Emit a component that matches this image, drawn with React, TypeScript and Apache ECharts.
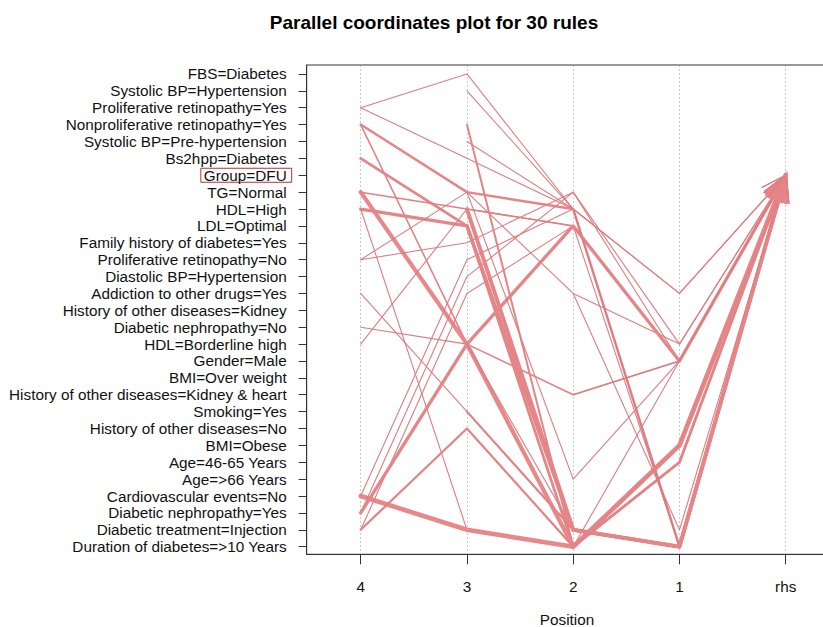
import React, { useEffect, useRef } from "react";
import * as echarts from "echarts";

// Item labels (y axis, top to bottom)
const items = [
  "FBS=Diabetes",
  "Systolic BP=Hypertension",
  "Proliferative retinopathy=Yes",
  "Nonproliferative retinopathy=Yes",
  "Systolic BP=Pre-hypertension",
  "Bs2hpp=Diabetes",
  "Group=DFU",
  "TG=Normal",
  "HDL=High",
  "LDL=Optimal",
  "Family history of diabetes=Yes",
  "Proliferative retinopathy=No",
  "Diastolic BP=Hypertension",
  "Addiction to other drugs=Yes",
  "History of other diseases=Kidney",
  "Diabetic nephropathy=No",
  "HDL=Borderline high",
  "Gender=Male",
  "BMI=Over weight",
  "History of other diseases=Kidney & heart",
  "Smoking=Yes",
  "History of other diseases=No",
  "BMI=Obese",
  "Age=46-65 Years",
  "Age=>66 Years",
  "Cardiovascular events=No",
  "Diabetic nephropathy=Yes",
  "Diabetic treatment=Injection",
  "Duration of diabetes=>10 Years",
];

// x-axis tick labels
const positionLabels = ["4", "3", "2", "1", "rhs"];
const rhsItem = 6; // Group=DFU

// Rules: index of the item at each LHS position (null = no item at that position)
const lhsPos4 = [2, 2, 3, 3, 5, 7, 7, 8, 8, 11, 11, 13, 15, 16, 25, 25, 26, 27, 26, 27, null, null, null, null, null, null, null, null, null, null];
const lhsPos3 = [0, 5, 16, 7, 9, 16, 8, 9, 27, 10, 7, 20, 16, 8, 27, 11, 12, 13, 16, 21, 1, 4, 20, 3, 8, 9, 7, null, null, null];
const lhsPos2 = [8, 8, 19, 8, 28, 28, 9, 27, 28, 7, 13, 27, 27, 9, 28, 8, 7, 9, 9, 28, 8, 8, 27, 28, 27, 27, 24, 19, 27, 13];
const lhsPos1 = [13, 13, 17, 28, 23, 22, 17, 28, 17, 16, 16, 28, 28, 28, 22, 28, 17, 17, 17, 23, 28, 28, 28, 22, 28, 28, 17, 17, 28, 27];
// Rule measures
const support = [0.1, 0.1, 0.14, 0.22, 0.25, 0.38, 0.14, 0.3, 0.1, 0.1, 0.1, 0.1, 0.1, 0.1, 0.42, 0.1, 0.1, 0.1, 0.3, 0.2, 0.1, 0.1, 0.2, 0.18, 0.36, 0.3, 0.1, 0.1, 0.3, 0.1];
const lift = [1.3, 1.3, 1.2, 1.1, 1.1, 1.05, 1.2, 1.1, 1.3, 1.3, 1.3, 1.3, 1.3, 1.3, 1.05, 1.3, 1.3, 1.3, 1.1, 1.15, 1.3, 1.3, 1.15, 1.15, 1.1, 1.1, 1.3, 1.3, 1.1, 1.3];

const X_MIN = -0.508;
const X_MAX = 4.508;
const Y_MIN = -0.53;
const Y_MAX = 28.45;
const FONT = "'Liberation Sans', Arial, sans-serif";

function ruleColor(l: number) {
  const t = Math.max(0, Math.min(1, (l - 1.0) / 0.35));
  const r = Math.round(234 - 14 * t);
  const g = Math.round(138 - 16 * t);
  const b = Math.round(138 - 10 * t);
  return `rgb(${r},${g},${b})`;
}

export default function App() {
  const ref = useRef<HTMLDivElement>(null);

  useEffect(() => {
    if (!ref.current) return;
    const chart = echarts.init(ref.current, null, { renderer: "svg" });

    const lhs = [lhsPos4, lhsPos3, lhsPos2, lhsPos1];
    const widths = support.map((s) => s * 11);
    const colors = lift.map((l) => ruleColor(l));
    const bodyData: any[] = [];
    const headData: number[][] = [];
    for (let r = 0; r < lhsPos1.length; r++) {
      const pts: number[][] = [];
      for (let j = 0; j < 4; j++) {
        const v = lhs[j][r];
        if (v !== null && v !== undefined) pts.push([j, v]);
      }
      const last = pts[pts.length - 1];
      pts.push([4, rhsItem]);
      bodyData.push({ coords: pts, lineStyle: { width: widths[r], color: colors[r] } });
      headData.push([last[0], last[1], 4, rhsItem, r]);
    }

    const gridLines = positionLabels.map((_, j) => ({ coords: [[j, Y_MIN], [j, Y_MAX]] }));

    const renderHead = (params: any, api: any) => {
      const r = api.value(4);
      const p1 = api.coord([api.value(0), api.value(1)]);
      const p2 = api.coord([api.value(2), api.value(3)]);
      const dx = p2[0] - p1[0];
      const dy = p2[1] - p1[1];
      const len = Math.hypot(dx, dy) || 1;
      const ux = -dx / len;
      const uy = -dy / len;
      const w = widths[r];
      const a = (21 * Math.PI) / 180;
      const L = 27;
      const rot = (ang: number) => [ux * Math.cos(ang) - uy * Math.sin(ang), ux * Math.sin(ang) + uy * Math.cos(ang)];
      const b1 = rot(a);
      const b2 = rot(-a);
      const points = [
        [p2[0] + L * b1[0], p2[1] + L * b1[1]],
        [p2[0], p2[1]],
        [p2[0] + L * b2[0], p2[1] + L * b2[1]],
      ];
      if (w >= 2.5) {
        return {
          type: "polygon",
          shape: { points },
          style: { fill: colors[r], stroke: colors[r], lineWidth: w * 0.7, lineJoin: "miter" },
        };
      }
      return {
        type: "polyline",
        shape: { points },
        style: { fill: null, stroke: colors[r], lineWidth: w, lineJoin: "miter" },
      };
    };

    chart.setOption({
      animation: false,
      backgroundColor: "#ffffff",
      textStyle: { fontFamily: FONT },
      graphic: [
        {
          type: "text",
          x: 434,
          y: 22,
          style: {
            text: "Parallel coordinates plot for 30 rules",
            font: `bold 19px ${FONT}`,
            fill: "#000",
            textAlign: "center",
            textVerticalAlign: "middle",
          },
        },
        {
          type: "text",
          x: 567,
          y: 619,
          style: {
            text: "Position",
            font: `15.3px ${FONT}`,
            fill: "#111",
            textAlign: "center",
            textVerticalAlign: "middle",
          },
        },
      ],
      grid: {
        left: 306.7,
        top: 65,
        width: 533,
        height: 489.3,
        show: true,
        borderColor: "#333",
        borderWidth: 1,
        backgroundColor: "transparent",
      },
      xAxis: {
        type: "value",
        min: X_MIN,
        max: X_MAX,
        axisLine: { show: true, onZero: false, lineStyle: { color: "#333", width: 1 } },
        axisTick: {
          show: true,
          inside: false,
          length: 10,
          customValues: [0, 1, 2, 3, 4],
          lineStyle: { color: "#333" },
        },
        axisLabel: {
          customValues: [0, 1, 2, 3, 4],
          formatter: (v: number) => positionLabels[Math.round(v)],
          margin: 25,
          fontSize: 15.3,
          color: "#111",
          fontFamily: FONT,
        },
        splitLine: { show: false },
      },
      yAxis: {
        type: "value",
        inverse: true,
        min: Y_MIN,
        max: Y_MAX,
        axisLine: { show: true, onZero: false, lineStyle: { color: "#333", width: 1 } },
        axisTick: {
          show: true,
          inside: false,
          length: 8,
          customValues: items.map((_, i) => i),
          lineStyle: { color: "#333" },
        },
        axisLabel: {
          customValues: items.map((_, i) => i),
          formatter: (v: number) => {
            const i = Math.round(v);
            return i === rhsItem ? `{dfu|${items[i]}}` : `{n|${items[i]}}`;
          },
          margin: 15,
          fontSize: 15.3,
          color: "#111",
          fontFamily: FONT,
          rich: {
            n: { fontSize: 15.3, color: "#111", padding: [0, 5, 0, 0], fontFamily: FONT },
            dfu: {
              fontSize: 15.3,
              color: "#111",
              borderColor: "#B83030",
              borderWidth: 1,
              padding: [0, 5, -1, 3],
              fontFamily: FONT,
            },
          },
        },
        splitLine: { show: false },
      },
      series: [
        {
          type: "lines",
          coordinateSystem: "cartesian2d",
          polyline: false,
          silent: true,
          z: 1,
          data: gridLines,
          lineStyle: { color: "#9a9a9a", width: 1, type: [2, 2] },
          symbol: "none",
        },
        {
          type: "lines",
          coordinateSystem: "cartesian2d",
          polyline: true,
          silent: true,
          z: 2,
          data: bodyData,
          lineStyle: { opacity: 1, curveness: 0, cap: "round", join: "round" },
        },
        {
          type: "custom",
          coordinateSystem: "cartesian2d",
          silent: true,
          z: 3,
          clip: false,
          dimensions: ["x1", "y1", "x2", "y2", "rule"],
          encode: { x: [0, 2], y: [1, 3] },
          data: headData,
          renderItem: renderHead,
        },
      ],
    });

    return () => chart.dispose();
  }, []);

  return (
    <div
      ref={ref}
      style={{ position: "fixed", left: 0, top: 0, width: 860, height: 627, background: "#fff" }}
    />
  );
}
